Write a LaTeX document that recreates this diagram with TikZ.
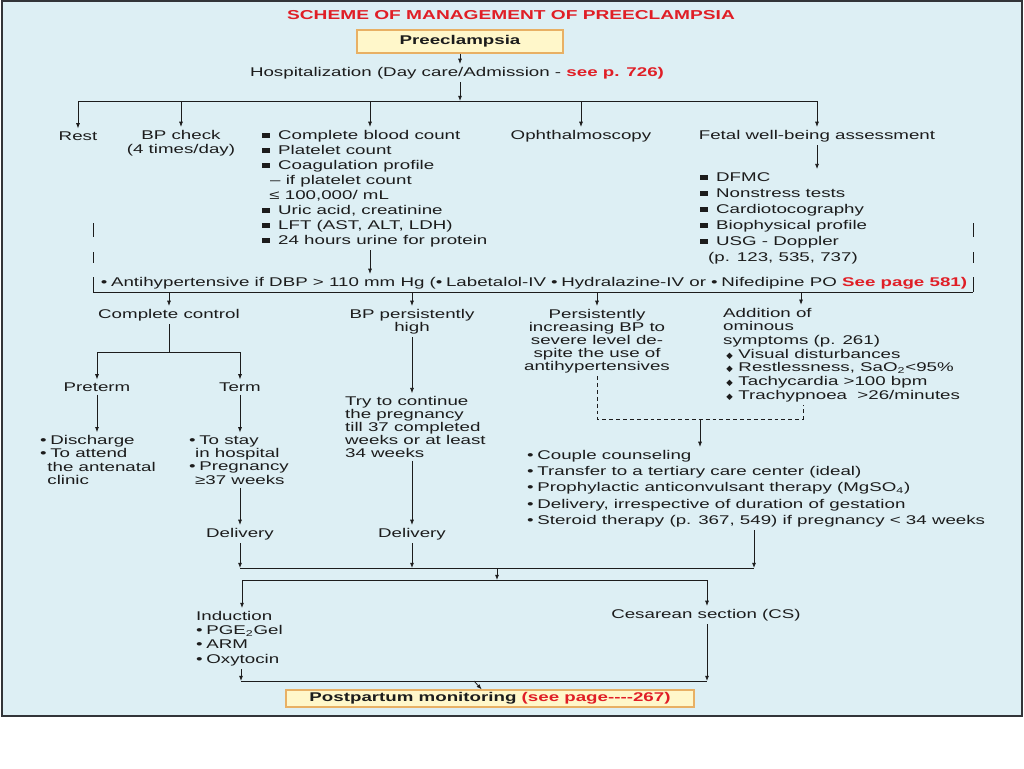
\documentclass[tikz,border=0pt]{standalone}
\usepackage{fontspec}
\setmainfont[FakeStretch=1.48]{Liberation Sans}
\newfontfamily\symfont{DejaVu Sans}
\usetikzlibrary{arrows.meta}

\definecolor{framebg}{RGB}{221,239,244}
\definecolor{framedk}{RGB}{50,52,56}
\definecolor{titlered}{RGB}{224,30,38}
\definecolor{boxfill}{RGB}{255,247,202}
\definecolor{boxline}{RGB}{232,176,100}
\definecolor{ink}{RGB}{28,28,28}

% bullets
\newcommand{\sqb}{\rule[0.3mm]{2mm}{1.2mm}\hspace{2mm}}
\newcommand{\rdb}{\textbullet\hspace{0.9mm}}
\newcommand{\dmb}{{\symfont\fontsize{6}{6}\selectfont ◆}\hspace{1.4mm}}
\newcommand{\redtxt}[1]{\textcolor{titlered}{\bfseries #1}}

\tikzset{
  txt/.style={inner sep=2pt, text=ink, font=\fontsize{9}{#1}\selectfont},
  txt/.default=9.3,
  ybox/.style={draw=boxline, fill=boxfill, line width=0.9pt, inner sep=0pt,
    text=ink, font=\fontsize{9}{10}\selectfont\bfseries},
  arr/.style={-{Latex[length=1.3mm,width=1mm]}},
  dsh/.style={dash pattern=on 2.8pt off 2.1pt}
}

\begin{document}
\begin{tikzpicture}[x=0.25mm,y=-0.25mm,line width=0.55pt,draw=ink]
\useasboundingbox (0,0) rectangle (1024,768);
\fill[white] (0,0) rectangle (1024,768);
\draw[framedk,fill=framebg,line width=0.55mm] (2,1) rectangle (1022,716);

% top
\node[txt,text=titlered,font=\fontsize{9.2}{10}\selectfont\bfseries] (title) at (511,15) {SCHEME OF MANAGEMENT OF PREECLAMPSIA};
\node[ybox,minimum width=51.5mm,minimum height=5.75mm] (pre) at (460,41.5) {Preeclampsia};
\node[txt] (hosp) at (457,73) {Hospitalization (Day care/Admission - \redtxt{see p. 726)}};
\draw[arr] (pre.south) -- (pre.south |- hosp.north);

\coordinate (b1) at (460,101);
\coordinate (b1l) at (79,101);
\coordinate (b1r) at (817,101);
\coordinate (dlab) at (370,101);
\draw[arr] (hosp.south -| b1) -- (b1);
\draw (b1l) -- (b1r);

% first row
\node[txt] (rest) at (78,136) {Rest};
\node[txt=9.96,align=center] (bpc) at (181,143) {BP check\\(4 times/day)};
\node[txt=10.67,align=left,anchor=west] (labs) at (259,188.5) {\sqb Complete blood count\\
  \sqb Platelet count\\
  \sqb Coagulation profile\\
  \hspace{2mm}-- if platelet count\\
  \hspace{1.8mm}≤ 100,000/ mL\\
  \sqb Uric acid, creatinine\\
  \sqb LFT (AST, ALT, LDH)\\
  \sqb 24 hours urine for protein};
\node[txt] (oph) at (581,136) {Ophthalmoscopy};
\node[txt] (fetal) at (817,136) {Fetal well-being assessment};
\node[txt=11.38,align=left,anchor=west] (fetlist) at (697,218) {\sqb DFMC\\
  \sqb Nonstress tests\\
  \sqb Cardiotocography\\
  \sqb Biophysical profile\\
  \sqb USG - Doppler\\
  \hspace{2mm}(p. 123, 535, 737)};

\foreach \n in {rest,bpc,oph,fetal}
  \draw[arr] (\n.north |- b1) -- (\n.north);
\draw[arr] (dlab) -- (dlab |- labs.north);
\draw[arr] (fetal.south) -- (fetal.south |- fetlist.north);

% antihypertensive
\node[txt] (anti) at (534,283) {\rdb Antihypertensive if DBP > 110 mm Hg (\rdb Labetalol-IV \rdb Hydralazine-IV or \rdb Nifedipine PO \redtxt{See page 581)}};
\draw[arr] (dlab |- labs.south) -- (dlab |- anti.north);
\coordinate (abl) at (93,292);
\coordinate (abr) at (973,292);
\coordinate (dadd) at (801,292);
\draw (abl) -- (abr);
\foreach \y/\z in {223/237,252/263,277/292}{
  \draw (93,\y) -- (93,\z);
  \draw (973,\y) -- (973,\z);
}

% second row
\node[txt] (cc) at (169,315) {Complete control};
\node[txt=9.25,align=center] (bph) at (412,321.5) {BP persistently\\high};
\node[txt=9.25,align=center] (pib) at (597,341) {Persistently\\increasing BP to\\severe level de-\\spite the use of\\antihypertensives};
\node[txt=9.75,align=left,anchor=west] (add) at (720,355) {Addition of\\ominous\\symptoms (p. 261)\\
  \hspace{0.8mm}\dmb Visual disturbances\\
  \hspace{0.8mm}\dmb Restlessness, SaO\textsubscript{2}<95\%\\
  \hspace{0.8mm}\dmb Tachycardia >100 bpm\\
  \hspace{0.8mm}\dmb Trachypnoea \ >26/minutes};
\foreach \n in {cc,bph,pib}
  \draw[arr] (\n.north |- abl) -- (\n.north);
\draw[arr] (dadd) -- (dadd |- add.north);

% complete control
\coordinate (ccj) at (169,352);
\node[txt] (preterm) at (97,387) {Preterm};
\node[txt] (term) at (240,387) {Term};
\draw (cc) -- (ccj);
\draw[arr] (ccj) -| (preterm);
\draw[arr] (ccj) -| (term);
\node[txt=9.46,align=left,anchor=west] (ptl) at (37,460) {\rdb Discharge\\\rdb To attend\\\hspace{1.8mm}the antenatal\\\hspace{1.8mm}clinic};
\node[txt=9.46,align=left,anchor=west] (tml) at (186,460) {\rdb To stay\\\hspace{1.5mm}in hospital\\\rdb Pregnancy\\\hspace{1.5mm}≥37 weeks};
\draw[arr] (preterm) -- (preterm |- ptl.north);
\draw[arr] (term) -- (term |- tml.north);
\node[txt] (del1) at (240,534) {Delivery};
\draw[arr] (tml.south -| del1) -- (del1);

% BP persistently high
\node[txt=9.25,align=left,anchor=west] (try) at (342,427) {Try to continue\\the pregnancy\\till 37 completed\\weeks or at least\\34 weeks};
\draw[arr] (bph) -- (bph |- try.north);
\node[txt] (del2) at (412,534) {Delivery};
\draw[arr] (try.south -| del2) -- (del2);

% severe / ominous
\coordinate (dl) at (597,419);
\coordinate (dr) at (803,419);
\coordinate (dj) at (700,419);
\draw[dsh] (pib) -- (dl) -- (dr) -- (dr |- add.south);
\node[txt=11.56,align=left,anchor=west] (mgmt) at (524,488.5) {\rdb Couple counseling\\
  \rdb Transfer to a tertiary care center (ideal)\\
  \rdb Prophylactic anticonvulsant therapy (MgSO\textsubscript{4})\\
  \rdb Delivery, irrespective of duration of gestation\\
  \rdb Steroid therapy (p. 367, 549) if pregnancy < 34 weeks};
\draw[arr] (dj) -- (dj |- mgmt.north);

% delivery
\coordinate (j2) at (497,568);
\coordinate (mg) at (754,568);
\coordinate (j3) at (497,580);
\coordinate (il) at (242,580);
\coordinate (cl) at (707,580);
\draw[arr] (del1) -- (del1 |- j2);
\draw[arr] (del2) -- (del2 |- j2);
\draw[arr] (mgmt.south -| mg) -- (mg);
\draw (del1 |- j2) -- (mg);
\draw[arr] (j2) -- (j3);
\draw (il) -- (cl);

\node[txt=10.17,align=left,anchor=west] (ind) at (193,638.5) {Induction\\\rdb PGE\textsubscript{2}Gel\\\rdb ARM\\\rdb Oxytocin};
\node[txt] (cs) at (706,615) {Cesarean section (CS)};
\draw[arr] (il) -- (il |- ind.north);
\draw[arr] (cl) -- (cl |- cs.north);

% postpartum
\coordinate (il2) at (241,681);
\coordinate (cr2) at (707,681);
\coordinate (j4) at (474,681);
\node[ybox,minimum width=102mm,minimum height=4.25mm] (post) at (490,698.5) {Postpartum monitoring \textcolor{titlered}{(see page{-}{-}{-}{-}267)}};
\draw[arr] (ind.south -| il2) -- (il2);
\draw[arr] (cs.south -| cr2) -- (cr2);
\draw (il2) -- (cr2);
\draw[arr] (j4) -- (post);
\end{tikzpicture}
\end{document}
